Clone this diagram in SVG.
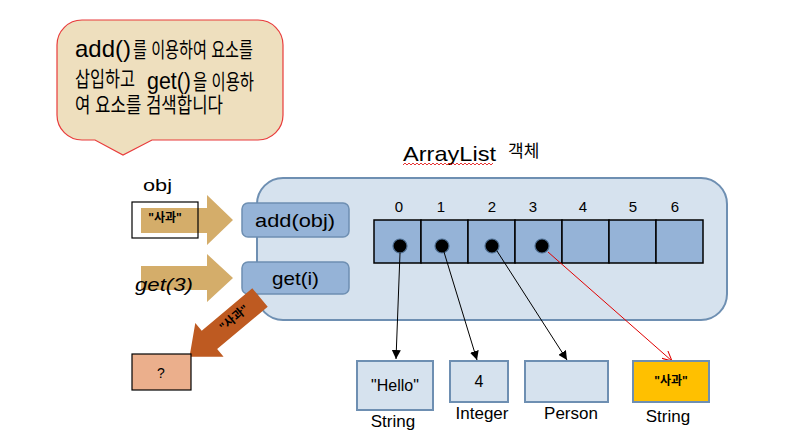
<svg xmlns="http://www.w3.org/2000/svg" width="793" height="448" viewBox="0 0 793 448">
<defs>
<style>
text{font-family:"Liberation Sans","Noto Sans CJK KR",sans-serif;fill:#000}
.box{fill:#95B3D7;stroke:#6E8FB2;stroke-width:1.5}
.obj{fill:#D6E2EE;stroke:#6E8FB2;stroke-width:2}
.cell{fill:#95B3D7;stroke:#000;stroke-width:1.5}
.dot{fill:#000;stroke:#4F6F92;stroke-width:1.2}
.tan{fill:#D4AD6A}
.lbl{font-size:17px}
.idx{font-size:15px;text-anchor:middle}
.ln{stroke:#000;stroke-width:1;fill:none}
.co{font-size:21px}
.lat{font-size:24px}
</style>
<marker id="ah" viewBox="0 0 10 10" refX="10" refY="5" markerWidth="9" markerHeight="9" markerUnits="userSpaceOnUse" orient="auto">
<path d="M0,0 L10,5 L0,10 Z" fill="#000"/>
</marker>
<marker id="ahr" viewBox="0 0 10 10" refX="10" refY="5" markerWidth="10" markerHeight="10" markerUnits="userSpaceOnUse" orient="auto">
<path d="M0,0 L10,5 L0,10" fill="none" stroke="#E00000" stroke-width="1"/>
</marker>
</defs>
<rect width="793" height="448" fill="#fff"/>

<g id="callout">
<path d="M82,20 H258 A25,25 0 0 1 283,45 V115 A25,25 0 0 1 258,140 H152 L123,155 L95,140 H82 A25,25 0 0 1 57,115 V45 A25,25 0 0 1 82,20 Z" fill="#EEDFBE" stroke="#E83B3B" stroke-width="1.2"/>
<text class="lat" x="75" y="57" textLength="56" lengthAdjust="spacingAndGlyphs">add()</text>
<text class="co" x="133" y="57" textLength="120" lengthAdjust="spacingAndGlyphs">를 이용하여 요소를</text>
<text class="co" x="75" y="86" textLength="60" lengthAdjust="spacingAndGlyphs">삽입하고</text>
<text class="lat" x="147" y="89" textLength="44" lengthAdjust="spacingAndGlyphs">get()</text>
<text class="co" x="193" y="89" textLength="61" lengthAdjust="spacingAndGlyphs">을 이용하</text>
<text class="co" x="75" y="112" textLength="148" lengthAdjust="spacingAndGlyphs">여 요소를 검색합니다</text>
</g>

<g id="title">
<text x="403" y="161" font-size="21" textLength="93" lengthAdjust="spacingAndGlyphs">ArrayList</text>
<text x="508" y="157" font-size="17">객체</text>
<path d="M403,165 l2,-2 l2,2 l2,-2 l2,2 l2,-2 l2,2 l2,-2 l2,2 l2,-2 l2,2 l2,-2 l2,2 l2,-2 l2,2 l2,-2 l2,2 l2,-2 l2,2 l2,-2 l2,2 l2,-2 l2,2 l2,-2 l2,2 l2,-2 l2,2 l2,-2 l2,2 l2,-2 l2,2 l2,-2 l2,2 l2,-2 l2,2 l2,-2 l2,2 l2,-2 l2,2 l2,-2 l2,2 l2,-2 l2,2 l2,-2 l2,2 l2,-2" fill="none" stroke="#E00000" stroke-width="0.8"/>
</g>

<g id="panel">
<rect x="257" y="178" width="470" height="142" rx="26" fill="#D6E2EE" stroke="#6E8FB2" stroke-width="2"/>
</g>

<g id="add-box">
<rect class="box" x="242" y="203" width="107" height="34" rx="6"/>
<text x="255" y="227" font-size="19" textLength="80" lengthAdjust="spacingAndGlyphs">add(obj)</text>
</g>
<g id="get-box">
<rect class="box" x="242" y="262" width="107" height="32" rx="6"/>
<text x="272" y="285" font-size="19" textLength="47" lengthAdjust="spacingAndGlyphs">get(i)</text>
</g>

<g id="array">
<rect class="cell" x="374" y="220" width="47" height="43"/>
<rect class="cell" x="421" y="220" width="47" height="43"/>
<rect class="cell" x="468" y="220" width="47" height="43"/>
<rect class="cell" x="515" y="220" width="47" height="43"/>
<rect class="cell" x="562" y="220" width="47" height="43"/>
<rect class="cell" x="609" y="220" width="47" height="43"/>
<rect class="cell" x="656" y="220" width="47" height="43"/>
<text class="idx" x="399" y="212">0</text>
<text class="idx" x="441" y="212">1</text>
<text class="idx" x="492" y="212">2</text>
<text class="idx" x="533" y="212">3</text>
<text class="idx" x="583" y="212">4</text>
<text class="idx" x="633" y="212">5</text>
<text class="idx" x="675" y="212">6</text>
<circle class="dot" cx="400" cy="246" r="7"/>
<circle class="dot" cx="442" cy="246" r="7"/>
<circle class="dot" cx="492" cy="246" r="7"/>
<circle class="dot" cx="542" cy="246" r="7"/>
</g>

<g id="connectors">
<line class="ln" x1="400" y1="253" x2="396" y2="359" marker-end="url(#ah)"/>
<line class="ln" x1="444" y1="252" x2="477" y2="360" marker-end="url(#ah)"/>
<line class="ln" x1="497" y1="251" x2="567" y2="360" marker-end="url(#ah)"/>
<line x1="548" y1="252" x2="672" y2="361" stroke="#E00000" stroke-width="1" marker-end="url(#ahr)"/>
</g>

<g id="obj-hello">
<rect class="obj" x="357" y="361" width="76" height="49"/>
<text x="395" y="391" font-size="16" text-anchor="middle">"Hello"</text>
<text class="lbl" x="393" y="427" text-anchor="middle">String</text>
</g>
<g id="obj-4">
<rect class="obj" x="450" y="361" width="58" height="41"/>
<text x="479" y="387" font-size="16" text-anchor="middle">4</text>
<text class="lbl" x="482" y="419" text-anchor="middle">Integer</text>
</g>
<g id="obj-person">
<rect class="obj" x="525" y="361" width="83" height="41"/>
<text class="lbl" x="571" y="419" text-anchor="middle">Person</text>
</g>
<g id="obj-apple">
<rect x="633" y="361" width="76" height="41" fill="#FFC000" stroke="#6E8FB2" stroke-width="2"/>
<text x="671" y="385" font-size="12" font-weight="bold" text-anchor="middle">"사과"</text>
<text class="lbl" x="668" y="422" text-anchor="middle">String</text>
</g>

<g id="obj-input">
<text x="143" y="191" font-size="17" textLength="29" lengthAdjust="spacingAndGlyphs">obj</text>
<path class="tan" d="M141,208 H207 V195 L233,220 L207,245 V233 H141 Z"/>
<rect x="132" y="202" width="66" height="36" fill="none" stroke="#000" stroke-width="1.2"/>
<text x="165" y="222" font-size="12" font-weight="bold" text-anchor="middle">"사과"</text>
</g>

<g id="get-input">
<path class="tan" d="M141,266 H207 V254 L233,278 L207,302 V290 H141 Z"/>
<text x="135" y="291" font-size="19" font-style="italic" textLength="58" lengthAdjust="spacingAndGlyphs">get(3)</text>
</g>

<g id="result-arrow">
<path d="M0,-12 H66 V-22 L92,0 L66,22 V12 H0 Z" fill="#BE5A21" transform="translate(260,297.5) rotate(140)"/>
<text x="0" y="4" font-size="12" font-weight="bold" text-anchor="middle" transform="translate(234,318) rotate(-40)">"사과"</text>
</g>

<g id="result-box">
<rect x="132" y="354" width="59" height="36" fill="#EBAF8C" stroke="#000" stroke-width="1.2"/>
<text x="161" y="378" font-size="14" text-anchor="middle">?</text>
</g>
</svg>
